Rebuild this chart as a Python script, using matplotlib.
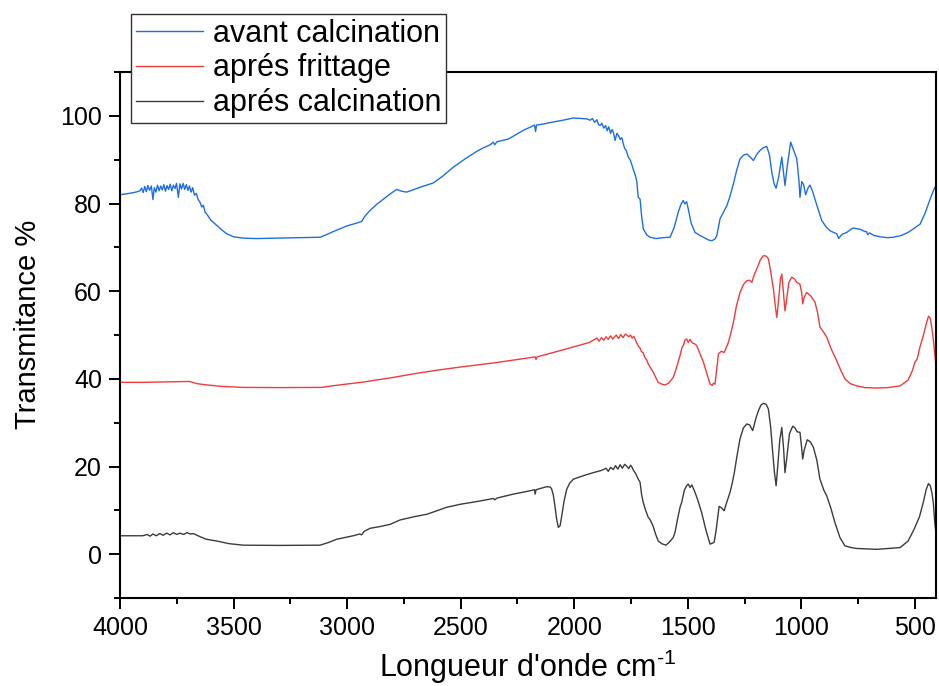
import matplotlib
matplotlib.use('Agg')
import matplotlib.pyplot as plt
from matplotlib.ticker import MultipleLocator

# ---------------- data ----------------
w_avant = [4000, 3960, 3930, 3912, 3905, 3898, 3891, 3884, 3877, 3870, 3862, 3855, 3849, 3842,
           3835, 3828, 3821, 3814, 3807, 3800, 3793, 3786, 3779, 3772, 3765, 3758, 3751, 3743,
           3736, 3729, 3722, 3715, 3708, 3701, 3694, 3687, 3680, 3672, 3664, 3656, 3648, 3640,
           3633, 3625, 3618, 3600, 3574, 3550, 3530, 3500, 3457, 3400, 3300, 3200, 3119, 3090,
           3061, 3000, 2960, 2936, 2920, 2899, 2870, 2840, 2810, 2782, 2760, 2738, 2710, 2679,
           2650, 2620, 2580, 2532, 2480, 2429, 2400, 2370, 2356, 2350, 2340, 2290, 2260, 2224,
           2190, 2175, 2170, 2166, 2140, 2092, 2050, 2004, 1970, 1945, 1930, 1920, 1910, 1900,
           1893, 1886, 1878, 1870, 1862, 1855, 1848, 1840, 1833, 1828, 1820, 1812, 1805, 1798,
           1790, 1784, 1778, 1770, 1762, 1754, 1746, 1740, 1732, 1725, 1718, 1710, 1703, 1696,
           1680, 1666, 1640, 1610, 1578, 1560, 1542, 1530, 1520, 1513, 1505, 1498, 1485, 1468,
           1450, 1431, 1410, 1394, 1380, 1372, 1358, 1345, 1328, 1315, 1299, 1285, 1270, 1255,
           1240, 1225, 1211, 1195, 1182, 1165, 1152, 1140, 1130, 1120, 1111, 1100, 1086, 1078,
           1072, 1062, 1047, 1035, 1020, 1010, 1006, 998, 990, 981, 970, 962, 952, 940, 925,
           910, 890, 874, 858, 844, 835, 830, 820, 800, 785, 771, 740, 720, 713, 708, 700, 680,
           653, 620, 595, 560, 530, 507, 477, 455, 433, 418, 404]
t_avant = [82.0, 82.3, 82.6, 82.9, 83.5, 82.5, 83.9, 82.7, 84.1, 83.0, 84.0, 80.9, 83.6, 82.6,
           84.2, 82.9, 84.0, 83.1, 84.3, 82.8, 84.1, 83.2, 84.4, 82.9, 84.2, 83.4, 84.6, 81.4,
           84.5, 83.3, 84.6, 83.2, 84.3, 83.0, 84.0, 82.6, 83.6, 81.9, 82.3, 80.9, 80.3, 79.2,
           79.6, 78.0, 77.6, 76.2, 75.0, 73.9, 73.1, 72.4, 72.1, 72.0, 72.1, 72.2, 72.3, 72.9,
           73.6, 74.9, 75.5, 75.9, 77.2, 78.4, 79.8, 81.0, 82.2, 83.2, 82.8, 82.6, 83.1, 83.7,
           84.2, 84.7, 86.2, 88.3, 90.2, 91.9, 92.7, 93.4, 94.0, 93.4, 94.1, 94.7, 95.6, 96.7,
           97.5, 97.9, 96.4, 97.9, 98.1, 98.6, 99.0, 99.5, 99.4, 99.3, 99.0, 99.4, 98.5, 99.1,
           98.0, 97.8, 98.3, 97.2, 97.8, 96.6, 97.5, 96.0, 96.9, 96.3, 94.4, 96.0, 95.5, 94.6,
           95.0, 93.6, 92.6, 92.0, 90.6, 90.0, 88.8, 87.8, 86.6, 85.2, 81.4, 81.0, 77.0, 74.2,
           72.8, 72.3, 72.0, 72.2, 72.3, 74.5, 78.0, 79.8, 80.7, 79.9, 80.4, 78.8, 75.5, 73.4,
           72.8, 72.3, 71.7, 71.5, 71.9, 72.7, 76.5, 77.8, 79.5, 81.5, 84.5, 87.5, 90.2, 91.0,
           91.3, 90.6, 89.8, 91.3, 92.1, 92.8, 93.0, 91.0, 87.1, 84.5, 83.5, 86.0, 90.6, 87.0,
           84.1, 88.5, 94.0, 92.3, 90.2, 85.0, 81.4, 85.0, 84.3, 82.0, 83.6, 84.2, 83.0, 81.0, 78.5,
           76.1, 74.6, 73.8, 73.4, 73.1, 72.0, 72.4, 73.0, 73.4, 74.0, 74.4, 74.1, 73.6, 73.6, 72.9,
           73.3, 72.7, 72.4, 72.2, 72.3, 72.7, 73.4, 74.2, 75.3, 77.8, 81.0, 83.0, 84.5]

w_frittage = [4000, 3900, 3800, 3721, 3695, 3660, 3632, 3560, 3459, 3300, 3113, 3050, 2924, 2800,
              2700, 2600, 2500, 2358, 2250, 2172, 2168, 2164, 2050, 1933, 1900, 1890, 1880, 1870,
              1860, 1850, 1840, 1830, 1823, 1815, 1805, 1795, 1785, 1775, 1769, 1760, 1752, 1745,
              1738, 1732, 1725, 1718, 1710, 1704, 1697, 1690, 1680, 1674, 1665, 1652, 1640, 1630,
              1615, 1600, 1585, 1564, 1550, 1534, 1525, 1518, 1512, 1505, 1498, 1490, 1480, 1470,
              1461, 1450, 1431, 1415, 1402, 1392, 1387, 1380, 1372, 1365, 1352, 1340, 1330, 1321,
              1310, 1299, 1285, 1270, 1255, 1240, 1228, 1218, 1207, 1196, 1180, 1167, 1155, 1145,
              1135, 1123, 1115, 1108, 1100, 1092, 1086, 1080, 1072, 1065, 1055, 1042, 1030, 1020,
              1006, 998, 994, 988, 977, 960, 940, 928, 918, 910, 900, 888, 870, 850, 844, 825, 808,
              785, 756, 720, 668, 620, 565, 530, 510, 500, 490, 478, 463, 450, 440, 432, 425, 419,
              410, 404]
t_frittage = [39.2, 39.2, 39.3, 39.4, 39.4, 38.9, 38.7, 38.3, 38.05, 38.0, 38.05, 38.5, 39.3, 40.3,
              41.2, 42.0, 42.7, 43.6, 44.4, 45.0, 44.4, 45.0, 46.6, 48.3, 49.3, 48.6, 49.4, 48.8,
              49.6, 49.0, 49.8, 49.1, 49.5, 50.0, 49.2, 50.1, 49.4, 50.2, 50.0, 49.6, 50.0, 49.3,
              49.7, 49.1, 48.2, 47.5, 47.0, 46.2, 46.0, 45.0, 44.2, 43.4, 42.6, 41.5, 40.2, 39.2,
              38.8, 38.6, 39.0, 40.3, 42.5, 45.3, 47.2, 47.8, 48.9, 49.1, 48.3, 49.0, 48.2, 48.0,
              47.6, 46.2, 43.8, 41.0, 38.8, 38.5, 39.0, 38.8, 42.5, 45.7, 46.3, 46.0, 47.2, 48.3,
              50.5, 52.9, 56.8, 59.7, 61.5, 62.4, 62.5, 62.0, 63.8, 65.1, 67.2, 68.1, 68.0, 67.4,
              64.5, 60.5, 56.8, 54.0, 58.0, 62.8, 63.9, 60.5, 55.5, 58.0, 62.0, 63.2, 62.8, 62.0,
              61.6, 59.5, 57.1, 58.5, 59.7, 59.0, 57.5, 55.0, 51.8, 51.2, 50.5, 49.5, 47.0, 44.8,
              44.1, 41.8, 40.0, 38.9, 38.4, 38.0, 37.9, 38.0, 38.4, 39.7, 42.0, 43.8, 44.5, 47.2,
              49.8, 52.5, 54.3, 53.8, 51.5, 49.1, 44.5, 41.1]

w_calcination = [4000, 3900, 3880, 3868, 3855, 3840, 3825, 3810, 3795, 3780, 3765, 3750, 3736, 3720,
                 3705, 3690, 3677, 3665, 3648, 3620, 3574, 3520, 3457, 3300, 3119, 3080, 3046, 2973,
                 2945, 2936, 2925, 2899, 2855, 2811, 2767, 2700, 2649, 2600, 2561, 2500, 2429, 2356,
                 2350, 2340, 2268, 2200, 2175, 2172, 2168, 2121, 2105, 2099, 2092, 2085, 2078, 2070,
                 2062, 2055, 2045, 2033, 2020, 2004, 1960, 1916, 1880, 1860, 1850, 1840, 1828, 1818,
                 1808, 1798, 1788, 1778, 1769, 1760, 1752, 1745, 1738, 1732, 1725, 1717, 1710, 1703,
                 1696, 1688, 1675, 1665, 1652, 1642, 1630, 1615, 1596, 1580, 1564, 1556, 1545, 1534,
                 1527, 1515, 1505, 1498, 1490, 1482, 1468, 1455, 1439, 1420, 1402, 1392, 1384, 1375,
                 1362, 1352, 1340, 1328, 1314, 1305, 1295, 1283, 1270, 1255, 1240, 1228, 1214, 1200,
                 1189, 1178, 1167, 1155, 1145, 1135, 1126, 1118, 1111, 1104, 1095, 1086, 1078, 1072,
                 1064, 1052, 1038, 1028, 1018, 1006, 998, 994, 988, 974, 960, 947, 932, 918, 900, 888,
                 870, 852, 830, 808, 780, 756, 668, 565, 530, 510, 500, 480, 463, 450, 440, 432, 425,
                 419, 412, 404]
t_calcination = [4.2, 4.2, 4.5, 4.1, 4.6, 4.2, 4.7, 4.3, 4.8, 4.4, 4.9, 4.5, 4.8, 4.5,
                 4.9, 4.6, 4.7, 4.4, 4.0, 3.4, 3.0, 2.4, 2.05, 2.0, 2.05, 2.7, 3.4, 4.2,
                 4.6, 4.4, 5.2, 5.9, 6.3, 6.8, 7.8, 8.6, 9.1, 10.0, 10.7, 11.4, 12.0, 12.7,
                 12.4, 12.8, 13.7, 14.4, 14.7, 13.7, 14.7, 15.4, 15.3, 14.8, 13.5, 11.0, 8.2, 6.1,
                 6.5, 8.7, 12.0, 14.8, 16.2, 17.1, 17.9, 18.6, 19.1, 19.6, 18.9, 19.8, 19.3, 20.2,
                 19.4, 20.4, 19.6, 20.5, 20.1, 19.5, 20.3, 19.8, 19.0, 18.6, 17.9, 17.0, 16.4, 13.5,
                 11.8, 10.4, 8.5, 7.8, 6.3, 4.6, 3.0, 2.4, 2.05, 2.8, 3.8, 5.0, 8.0, 10.7,
                 11.8, 14.6, 15.6, 16.0, 15.2, 15.8, 14.1, 12.2, 9.5, 5.5, 2.3, 2.5, 2.7, 5.5,
                 10.9, 10.6, 9.9, 11.9, 14.1, 16.0, 18.6, 22.5, 26.3, 28.8, 29.7, 29.5, 28.2, 31.0,
                 32.7, 34.0, 34.4, 34.2, 33.1, 29.0, 23.2, 18.5, 15.6, 20.0, 26.0, 28.9, 24.0, 18.6,
                 22.0, 27.5, 29.2, 28.8, 27.9, 27.8, 24.0, 21.7, 23.6, 26.1, 25.6, 24.4, 21.5, 17.1, 14.5, 13.3,
                 10.5, 7.2, 3.8, 1.9, 1.5, 1.3, 1.1, 1.5, 3.0, 5.0, 6.1, 8.5, 11.8, 14.8, 16.1, 15.6, 14.0,
                 11.8, 7.0, 3.4]

labels = ['avant calcination', 'aprés frittage', 'aprés calcination']
colors = ['#1f6fe0', '#f03c3c', '#3c3c3c']

x_ticks = [4000, 3500, 3000, 2500, 2000, 1500, 1000, 500]
y_ticks = [0, 20, 40, 60, 80, 100]

# ---------------- figure ----------------
plt.rcParams['font.family'] = ['Liberation Sans', 'DejaVu Sans']
plt.rcParams['mathtext.fontset'] = 'custom'
plt.rcParams['mathtext.rm'] = 'Liberation Sans'

fig = plt.figure(figsize=(9.39, 6.86), dpi=100)
ax = fig.add_axes([120 / 939, 1 - 598 / 686, (936 - 120) / 939, (598 - 72) / 686])

series = [(w_avant, t_avant), (w_frittage, t_frittage), (w_calcination, t_calcination)]
for (w, t), lab, col in zip(series, labels, colors):
    ax.plot(w, t, color=col, lw=1.0, label=lab)

ax.set_xlim(4000, 407)
ax.set_ylim(-10, 110)
ax.set_xticks(x_ticks)
ax.set_yticks(y_ticks)
ax.xaxis.set_minor_locator(MultipleLocator(250))
ax.yaxis.set_minor_locator(MultipleLocator(10))
ax.tick_params(which='both', direction='out', width=1.4, top=False, right=False,
               labelsize=18, colors='black')
ax.tick_params(which='major', length=8, pad=5)
ax.tick_params(which='minor', length=4.5)
for s in ax.spines.values():
    s.set_linewidth(1.5)

ax.set_xlabel(r"Longueur d'onde cm$^{\text{-1}}$", fontsize=22)
ax.set_ylabel('Transmitance %', fontsize=21)
ax.xaxis.set_label_coords(0.5, -0.095)
ax.yaxis.set_label_coords(-0.096, 0.52)

leg = ax.legend(loc='upper left', bbox_to_anchor=(131 / 939, 1 - 14 / 686),
                bbox_transform=fig.transFigure, fontsize=22, frameon=True, fancybox=False,
                edgecolor='#333333', framealpha=1, borderpad=0.15, labelspacing=0.16,
                handlelength=2.2, handletextpad=0.33, borderaxespad=0)
leg.get_frame().set_linewidth(1.0)

fig.savefig('out.png', dpi=100)
